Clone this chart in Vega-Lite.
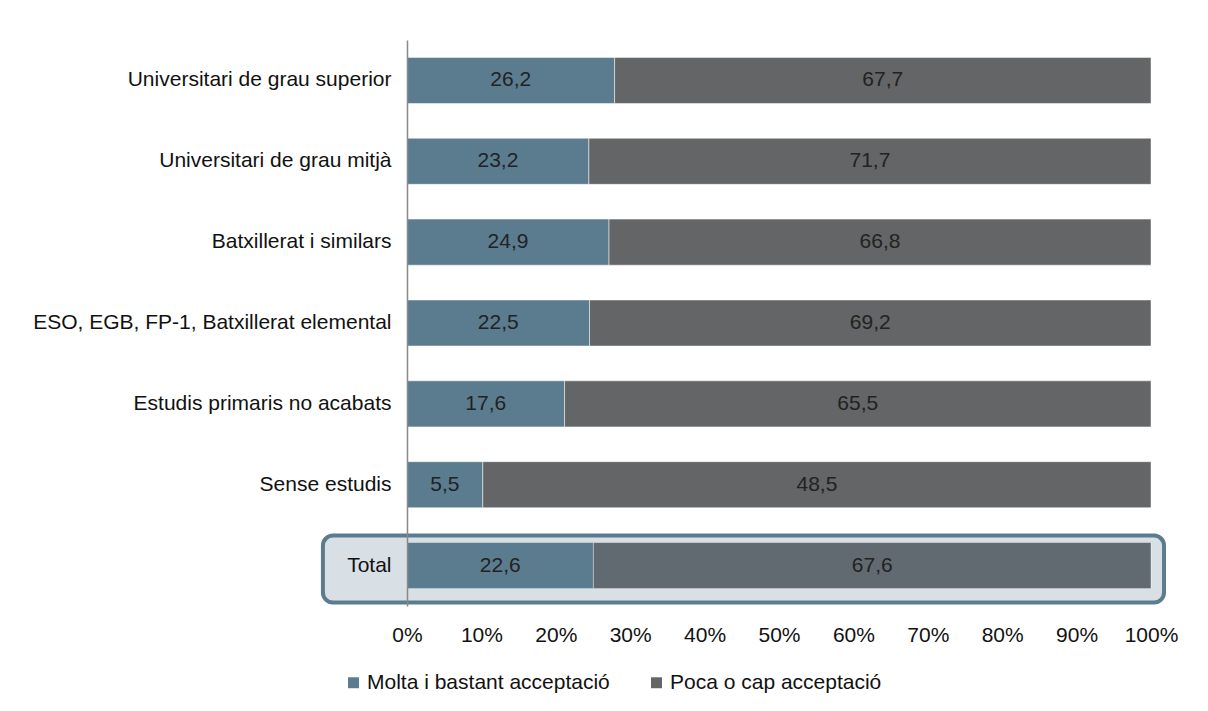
{
  "$schema": "https://vega.github.io/schema/vega-lite/v6.json",
  "width": 744,
  "height": 566,
  "autosize": {"type": "none"},
  "padding": {"left": 407, "top": 40, "right": 57, "bottom": 105},
  "background": "white",
  "config": {
    "view": {"stroke": null},
    "font": "Liberation Sans",
    "locale": {"number": {"decimal": ",", "thousands": ".", "grouping": [3], "currency": ["", " €"]}},
    "axis": {"labelFont": "Liberation Sans", "labelFontSize": 21, "labelColor": "#111111"},
    "legend": {"labelFont": "Liberation Sans", "labelFontSize": 21, "labelColor": "#111111", "labelLimit": 600}
  },
  "datasets": {
    "dades": [
      {"nivell": "Universitari de grau superior", "resposta": "Molta i bastant acceptació", "valor": 26.2},
      {"nivell": "Universitari de grau superior", "resposta": "Poca o cap acceptació", "valor": 67.7},
      {"nivell": "Universitari de grau mitjà", "resposta": "Molta i bastant acceptació", "valor": 23.2},
      {"nivell": "Universitari de grau mitjà", "resposta": "Poca o cap acceptació", "valor": 71.7},
      {"nivell": "Batxillerat i similars", "resposta": "Molta i bastant acceptació", "valor": 24.9},
      {"nivell": "Batxillerat i similars", "resposta": "Poca o cap acceptació", "valor": 66.8},
      {"nivell": "ESO, EGB, FP-1, Batxillerat elemental", "resposta": "Molta i bastant acceptació", "valor": 22.5},
      {"nivell": "ESO, EGB, FP-1, Batxillerat elemental", "resposta": "Poca o cap acceptació", "valor": 69.2},
      {"nivell": "Estudis primaris no acabats", "resposta": "Molta i bastant acceptació", "valor": 17.6},
      {"nivell": "Estudis primaris no acabats", "resposta": "Poca o cap acceptació", "valor": 65.5},
      {"nivell": "Sense estudis", "resposta": "Molta i bastant acceptació", "valor": 5.5},
      {"nivell": "Sense estudis", "resposta": "Poca o cap acceptació", "valor": 48.5},
      {"nivell": "Total", "resposta": "Molta i bastant acceptació", "valor": 22.6},
      {"nivell": "Total", "resposta": "Poca o cap acceptació", "valor": 67.6}
    ],
    "destacat": [
      {"nivell": "Total"}
    ]
  },
  "data": {"name": "dades"},
  "encoding": {
    "y": {
      "field": "nivell",
      "type": "nominal",
      "sort": ["Universitari de grau superior", "Universitari de grau mitjà", "Batxillerat i similars", "ESO, EGB, FP-1, Batxillerat elemental", "Estudis primaris no acabats", "Sense estudis", "Total"],
      "scale": {"paddingInner": 0.43, "paddingOuter": 0.215},
      "axis": {"title": null, "ticks": false, "labelPadding": 16, "domainColor": "#888888", "domainWidth": 1.5, "zindex": 1, "labelLimit": 600}
    }
  },
  "layer": [
    {
      "data": {"name": "destacat"},
      "mark": {"type": "bar", "height": 67, "yOffset": 3.5, "cornerRadius": 10, "fill": "#d8dfe5", "stroke": "#5b7c8f", "strokeWidth": 4},
      "encoding": {
        "x": {"datum": -0.113, "type": "quantitative"},
        "x2": {"datum": 1.0175}
      }
    },
    {
      "mark": {"type": "bar", "stroke": "white", "strokeWidth": 0.5},
      "encoding": {
        "x": {
          "field": "valor",
          "type": "quantitative",
          "stack": "normalize",
          "scale": {"domain": [0, 1], "nice": false},
          "axis": {"title": null, "format": ".0%", "values": [0, 0.1, 0.2, 0.3, 0.4, 0.5, 0.6, 0.7, 0.8, 0.9, 1], "grid": false, "domain": false, "ticks": false, "labelPadding": 18, "labelFlush": false}
        },
        "color": {
          "field": "resposta",
          "type": "nominal",
          "scale": {"domain": ["Molta i bastant acceptació", "Poca o cap acceptació"], "range": ["#5b7c8f", "#636566"]},
          "legend": {"title": null, "orient": "none", "direction": "horizontal", "legendX": -64, "legendY": 632, "symbolType": "square", "symbolSize": 120, "symbolStrokeWidth": 0, "symbolOpacity": 1, "labelOffset": 3, "columnPadding": 36}
        }
      }
    },
    {
      "data": {"name": "destacat"},
      "mark": {"type": "bar", "fill": "#5b7c8f", "fillOpacity": 0.25},
      "encoding": {
        "x": {"datum": 0, "type": "quantitative"},
        "x2": {"datum": 1}
      }
    },
    {
      "mark": {"type": "text", "fontSize": 21, "color": "#222222", "font": "Liberation Sans"},
      "encoding": {
        "x": {"field": "valor", "type": "quantitative", "stack": "normalize", "bandPosition": 0.5},
        "detail": {"field": "resposta", "type": "nominal"},
        "text": {"field": "valor", "type": "quantitative", "format": ".1f"}
      }
    }
  ]
}
